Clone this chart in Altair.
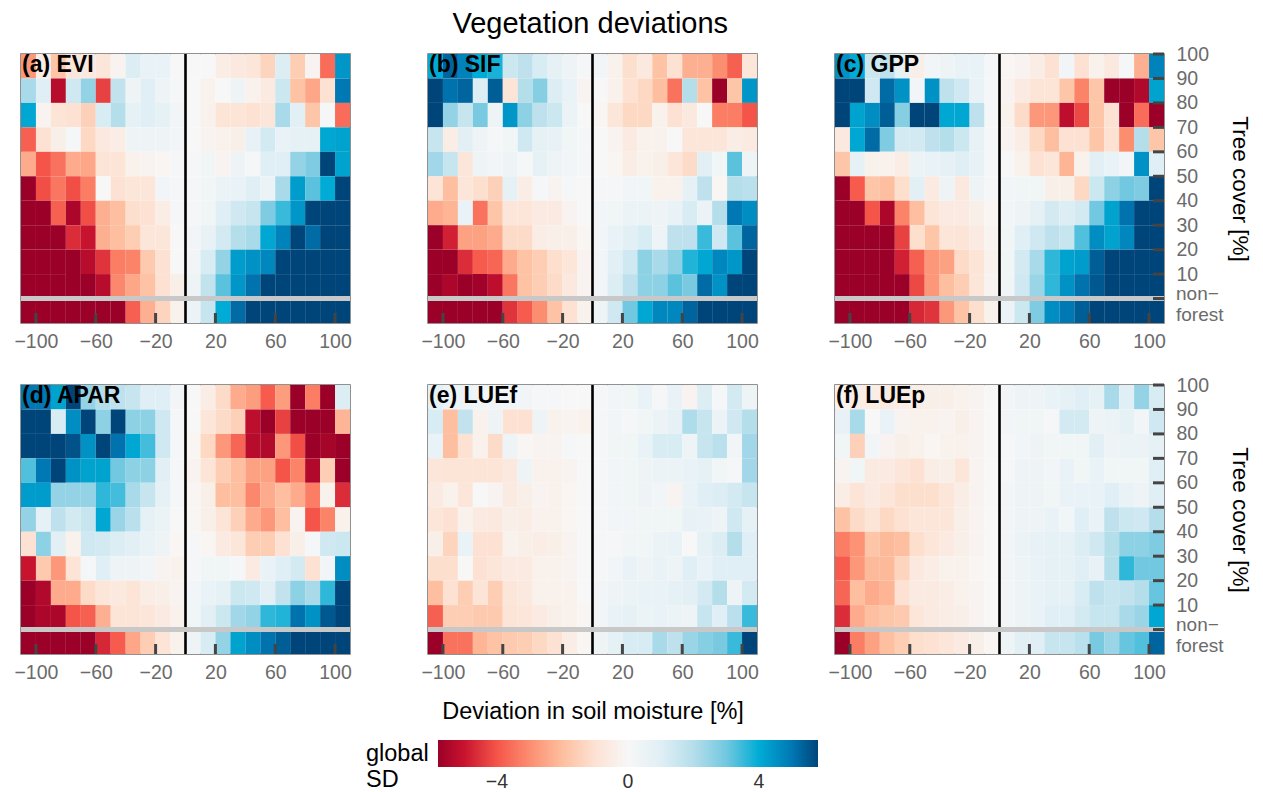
import altair as alt
import pandas as pd

FONT = "Liberation Sans"

# soil-moisture deviation bins (lower edges, %), 22 bins of width 10
sm_lower = list(range(-110, 110, 10))
# tree-cover bins (lower edges, %), top row first; -10 = the "non-forest" row
tc_lower = [90, 80, 70, 60, 50, 40, 30, 20, 10, 0, -10]
x_ticks = [-100, -60, -20, 20, 60, 100]
y_ticks = [0, 10, 20, 30, 40, 50, 60, 70, 80, 90, 100]
y_labels = [10, 20, 30, 40, 50, 60, 70, 80, 90, 100]
nonforest_label = ["non\u2212", "forest"]
legend_ticks = [-4, 0, 4]

EVI = [
    [-2.8, -0.5, -1.8, -0.8, -0.7, -0.8, -0.2, 1.1, 0.6, 0.6, 0.0, 0.0, 0.0, -0.5, -0.7, -0.8, -1.4, 1.1, -1.6, -0.2, -3.6, 4.4],
    [2.2, 1.0, -5.3, 1.4, 2.5, -4.3, 1.7, 0.4, 1.0, 0.4, 0.1, 0.0, -0.3, 0.0, 0.4, -0.3, -0.6, 1.5, -1.9, -2.5, -1.0, 5.0],
    [4.1, -0.2, -0.9, -1.0, -1.5, 1.2, 2.0, 0.8, 1.0, 0.8, 0.2, 0.0, -0.3, -0.9, -0.9, -1.0, -0.8, 2.2, 0.9, -1.8, 0.1, -3.6],
    [-3.8, -1.0, -0.4, 0.1, -1.3, -0.7, -0.5, 0.4, 0.4, 0.4, 0.2, 0.0, -0.2, -0.3, -0.4, 0.7, 1.3, 0.6, 0.8, 0.8, 4.1, 4.2],
    [-2.4, -4.0, -3.5, -2.4, -2.5, -0.9, -0.9, -0.3, -0.2, -0.1, 0.1, 0.1, 0.3, -0.2, 0.4, 0.1, 1.0, 1.0, 2.5, 2.8, 6.0, 4.2],
    [-6, -4.1, -3.4, -4.1, -3.3, 0.0, -1.0, -0.8, -0.8, 0.2, 0.1, 0.1, 0.3, 0.5, 0.6, 1.0, 0.5, 2.2, 4.3, 3.2, 4.0, 6],
    [-6, -6, -3.8, -5.5, -4.1, -2.3, -2.0, -1.1, -1.0, -0.5, 0.1, 0.1, 0.3, 1.0, 1.4, 1.6, 2.8, 3.5, 4.4, 6, 6, 6],
    [-6, -6, -6, -4.6, -5.0, -2.3, -2.0, -1.6, -0.8, -0.8, 0.0, 0.2, 0.7, 1.3, 2.0, 2.2, 4.1, 4.8, 6, 5.2, 6, 6],
    [-6, -6, -6, -6, -5.3, -4.5, -3.3, -3.2, -1.7, -1.0, 0.0, 0.2, 1.2, 2.5, 4.3, 4.5, 4.7, 6, 6, 6, 6, 6],
    [-6, -6, -6, -6, -6, -5.3, -3.1, -2.5, -1.9, -1.0, -0.4, 0.4, 1.7, 3.2, 4.4, 5.1, 6, 6, 6, 6, 6, 6],
    [-6, -6, -6, -6, -6, -6, -6, -3.8, -2.3, -1.4, -0.3, 0.5, 1.6, 4.0, 5.2, 6, 6, 6, 6, 6, 6, 6],
]
SIF = [
    [4.0, 5.3, 4.8, 4.0, 3.8, 1.5, 1.8, 1.2, 0.8, 0.4, 0.1, 0.2, -0.3, -1.1, -0.7, -1.9, -1.0, -2.3, -2.3, -3.0, -3.8, -0.8],
    [6, 5.1, 5.3, 1.1, 5.4, -0.9, 2.0, 2.7, 1.1, 0.6, -0.2, 0.0, -0.3, -1.0, -1.3, -2.0, -3.5, 2.0, -1.9, -6, -1.8, 4.4],
    [6, 2.5, 1.6, 2.9, 0.4, 4.4, 2.6, 1.8, 1.5, 0.5, 0.0, -0.1, -0.8, -1.3, -1.3, -0.3, -1.0, -0.7, 0.0, -3.3, -3.3, -4.0],
    [1.6, -0.5, 0.9, 0.4, 0.1, 0.3, 1.4, 0.8, 0.7, 0.3, 0.1, 0.0, -0.2, -0.6, -0.3, -0.3, 0.0, -0.8, -0.8, -0.8, -0.5, -0.6],
    [2.3, 1.6, -0.8, 0.4, 0.2, 0.4, 0.1, 0.8, 0.4, 0.2, 0.1, 0.0, -0.1, -0.5, -0.3, -0.4, -0.8, -1.2, 0.9, 0.3, 3.2, 0.4],
    [-0.9, -2.0, -0.8, -1.1, -1.5, 0.8, -0.5, 0.1, -0.2, 0.1, 0.0, 0.1, 0.1, 0.2, 0.3, -0.3, -0.3, 0.8, 1.8, -0.1, 2.0, 1.9],
    [-2.4, -2.2, 0.6, -3.5, -1.8, -0.8, -0.8, -0.6, -0.6, -0.2, 0.0, 0.2, 0.3, 0.5, 0.5, 0.4, 0.6, 1.2, 0.5, 2.0, 5.0, 4.6],
    [-6, -4.8, -2.6, -2.6, -2.4, -1.2, -1.2, -0.5, -0.4, -0.4, -0.1, 0.2, 0.6, 0.9, 1.2, 0.4, 1.8, 1.8, 3.5, 1.4, 3.2, 5.3],
    [-6, -5.9, -4.6, -3.9, -3.7, -2.4, -1.9, -1.6, -1.1, -0.8, -0.2, 0.2, 0.9, 1.4, 2.6, 2.2, 2.6, 3.7, 4.1, 4.7, 4.4, 6],
    [-6, -5.5, -6, -5.7, -5.2, -3.4, -1.9, -1.6, -1.2, -0.7, -0.2, 0.2, 1.1, 1.8, 2.6, 2.6, 3.2, 2.9, 5.2, 4.5, 6, 6],
    [-6, -6, -6, -6, -5.8, -4.5, -3.9, -3.0, -1.9, -1.0, -0.3, 0.4, 1.4, 3.0, 4.1, 4.7, 4.7, 5.3, 6, 6, 6, 5.8],
]
GPP = [
    [4.5, 4.0, 1.5, 1.8, 0.8, -0.4, 0.2, 0.4, 0.6, 0.6, 0.1, -0.1, -0.2, -0.5, -1.0, 0.2, -1.0, -0.3, -0.7, 0.1, -2.3, 4.8],
    [6, 6, 1.4, 5.2, 4.5, 0.2, 4.5, 1.8, 1.4, 0.6, 0.1, -0.2, -0.6, -0.9, -0.9, -1.8, -3.2, -1.8, -6, -6, -5.4, 4.2],
    [6, 4.2, 4.6, 5.4, 2.7, 6, 6, 4.1, 4.1, 1.8, 0.1, -0.3, -1.2, -2.8, -2.8, -5.2, -4.2, -1.8, -1.0, -6, -3.6, -6],
    [-0.7, 4.1, 5.2, 2.8, 1.3, 1.3, 1.8, 2.0, 1.5, 0.7, 0.1, -0.2, -0.5, -1.3, -2.0, -1.0, -1.0, -1.8, -1.0, -3.0, 2.0, -1.8],
    [-1.8, 0.8, -0.3, -0.3, -0.5, 0.5, 0.6, 0.8, 1.0, 0.7, 0.1, 0.0, -0.3, -1.0, -0.8, -2.2, -0.3, 0.9, 0.6, 0.2, 4.5, 1.0],
    [-6, -3.9, -1.8, -2.0, -1.1, 0.9, -0.6, 0.4, -0.7, 0.4, 0.1, 0.2, 0.3, 0.3, -0.4, -0.4, -1.3, 1.5, 2.6, 3.0, 2.8, 6],
    [-6, -6, -4.0, -5.5, -3.2, -2.0, -0.9, -0.6, -0.6, -0.4, -0.1, 0.2, 0.4, 0.8, 1.3, 1.1, 1.3, 3.0, 4.2, 5.1, 6, 6],
    [-6, -6, -6, -6, -4.3, -1.1, -1.8, -0.8, -0.9, -0.6, -0.2, 0.3, 1.0, 1.4, 1.8, 1.6, 3.3, 4.6, 4.2, 4.7, 6, 6],
    [-6, -6, -6, -6, -4.8, -3.8, -2.8, -2.6, -1.2, -0.9, -0.3, 0.3, 1.3, 2.2, 3.6, 4.2, 4.3, 5.4, 6, 6, 6, 6],
    [-6, -6, -6, -6, -6, -4.2, -2.8, -2.0, -1.6, -0.8, -0.2, 0.3, 1.4, 2.4, 3.6, 4.5, 5.1, 5.5, 6, 6, 6, 6],
    [-6, -6, -6, -6, -6, -4.7, -4.5, -2.8, -1.9, -1.1, -0.3, 0.5, 1.5, 2.8, 4.6, 5.0, 5.4, 6, 6, 6, 6, 5.8],
]
APAR = [
    [5.0, 5.0, 4.2, 6, 2.5, 2.0, 1.8, 1.6, 1.0, 1.0, 0.2, 0.0, -0.5, -1.2, -2.4, -2.7, -3.9, -2.7, -6, -3.3, -6, 1.1],
    [6, 6, 1.2, 4.6, 6, 2.6, 6, 2.6, 2.6, 1.4, 0.1, 0.0, -0.8, -1.2, -1.5, -5.2, -6, -4.3, -6, -6, -6, -2.2],
    [6, 6, 6, 5.6, 4.5, 6, 5.1, 4.1, 3.4, 1.4, 0.1, -0.1, -1.3, -2.8, -3.7, -5.3, -5.4, -2.8, -4.1, -6, -5.6, -6],
    [3.3, 5.0, 6, 4.5, 4.2, 4.2, 3.0, 2.6, 2.6, 0.9, 0.1, -0.2, -0.9, -1.6, -2.0, -2.6, -2.6, -4.0, -3.2, -5.4, -1.6, -6],
    [4.3, 4.3, 2.5, 2.5, 2.5, 3.6, 3.4, 2.2, 1.6, 0.8, 0.1, -0.1, -0.4, -2.0, -2.0, -3.1, -2.4, -2.0, -2.4, -3.3, -0.3, -4.6],
    [2.5, 0.8, 1.8, 1.3, 1.6, 4.1, 2.4, 1.9, 0.8, 0.5, 0.0, -0.1, -0.4, -0.9, -1.5, -2.4, -2.8, -2.0, -0.2, -4.0, -3.2, -0.3],
    [-1.0, 2.6, 0.9, -0.3, 1.4, 1.3, 1.1, 0.9, 0.6, 0.4, -0.1, 0.1, -0.1, -0.6, -0.8, -1.6, -1.6, -1.0, -0.4, 0.1, 1.4, 1.5],
    [-5.0, -1.7, -2.8, -0.9, 0.1, 1.0, 0.4, 0.4, 0.2, -0.2, -0.3, 0.1, 0.3, 0.3, 0.1, -0.6, 0.6, 1.0, 1.3, -1.0, 0.2, 4.6],
    [-6, -5.4, -2.4, -2.4, -1.2, -0.8, -0.7, -0.9, -0.5, -0.4, -0.2, 0.2, 0.6, 0.8, 1.5, 1.4, 0.9, 1.7, 2.6, 2.2, 3.6, 6],
    [-6, -5.5, -5.5, -4.0, -3.8, -2.3, -0.9, -0.9, -0.8, -0.6, -0.3, 0.3, 0.9, 1.5, 2.3, 2.5, 3.6, 3.7, 5.1, 4.5, 5.5, 6],
    [-6, -6, -6, -5.8, -5.8, -4.7, -3.9, -2.5, -1.6, -0.9, -0.3, 0.4, 1.2, 2.5, 4.2, 4.6, 5.1, 5.4, 6, 6, 6, 5.8],
]
LUEf = [
    [0.8, 0.4, 0.4, 0.3, 0.2, 0.2, 0.2, 0.1, 0.1, 0.0, 0.0, 0.1, 0.2, 0.3, 0.6, 0.1, 0.6, -0.2, 1.1, 0.1, 1.3, 0.4],
    [1.2, -2.0, 1.7, -0.3, 0.4, -1.0, -1.0, 0.4, -0.3, -0.2, -0.3, 0.1, 0.2, 0.1, 0.3, 0.5, 0.8, 2.1, 1.6, 0.5, 1.4, 2.0],
    [0.6, -2.0, -1.0, -0.3, -1.2, 0.4, -0.1, -0.2, -0.2, 0.1, 0.0, 0.1, 0.3, 0.3, 0.6, 1.2, 1.2, 0.4, 1.6, 1.9, 0.2, 2.3],
    [-0.8, -0.9, -0.9, -0.9, -0.9, -0.7, 0.4, -0.3, -0.3, -0.2, 0.0, 0.1, 0.2, 0.3, 0.4, 0.5, 0.5, 0.6, 0.8, 0.3, 0.1, 2.3],
    [-0.6, -0.3, -0.8, 0.0, -0.2, -0.6, -0.4, -0.2, -0.3, -0.1, 0.0, 0.1, 0.2, 0.3, 0.4, 0.2, -0.2, 0.6, 1.0, 1.1, 1.3, 1.6],
    [-0.8, -1.0, -0.3, -0.6, -0.7, -0.4, -0.5, -0.3, -0.3, -0.1, 0.0, 0.1, 0.2, 0.2, 0.3, 0.3, 0.3, 0.7, 0.6, 0.4, 1.4, 0.8],
    [-0.4, -1.4, 0.6, -1.0, -1.0, -0.3, -0.4, -0.5, -0.4, -0.2, 0.0, 0.1, 0.1, 0.3, 0.3, 0.5, 0.6, 0.0, 0.8, 1.1, 2.0, 1.0],
    [-1.1, -1.1, 0.0, -1.0, -0.8, -0.6, -0.6, -0.3, -0.3, -0.2, 0.0, 0.1, 0.2, 0.6, 0.4, 0.6, 0.4, 1.0, 0.6, 1.0, 1.0, 1.0],
    [-2.0, -1.0, -1.6, -0.9, -1.6, -0.8, -0.7, -0.3, -0.3, -0.3, 0.0, 0.2, 0.4, 0.5, 0.6, 0.6, 0.8, 0.9, 1.3, 2.0, 0.4, 1.3],
    [-3.8, -1.6, -1.6, -1.7, -1.7, -0.9, -0.8, -0.6, -0.4, -0.3, -0.1, 0.2, 0.6, 0.8, 0.5, 0.6, 0.5, 0.4, 1.6, 1.0, 1.9, 3.5],
    [-6, -3.5, -3.5, -2.2, -1.9, -1.7, -1.6, -1.3, -1.0, -0.5, -0.1, 0.4, 0.8, 1.2, 1.2, 2.2, 1.8, 2.4, 2.7, 2.9, 3.5, 6],
]
LUEp = [
    [-0.3, -0.5, -0.5, -0.6, -0.5, -0.5, -0.4, -0.4, -0.3, -0.2, 0.0, 0.2, 0.4, 0.4, 0.6, 0.8, 1.0, 0.8, 2.2, 1.0, 2.5, 1.2],
    [0.7, 2.2, 0.0, 0.6, -0.2, -0.3, -0.3, -0.2, -0.4, -0.2, 0.0, 0.2, 0.3, 0.3, 0.1, 1.3, 1.3, 0.4, 0.5, 0.8, 0.2, 1.4],
    [0.3, -1.5, 0.2, -0.2, -0.4, -0.3, -0.1, -0.3, -0.3, -0.2, 0.0, 0.1, 0.2, 0.4, 0.3, 0.3, 0.3, 0.9, 0.4, 0.5, 0.5, 0.8],
    [-0.2, 0.3, -0.6, -0.6, -0.8, -1.0, -0.5, -0.4, -0.8, -0.2, 0.0, 0.1, 0.4, 0.4, 0.2, 0.6, 0.3, 0.6, 0.3, 0.3, 0.3, 1.0],
    [-0.5, -0.9, -0.6, -0.8, -1.1, -1.1, -1.1, -0.8, -0.5, -0.2, 0.0, 0.2, 0.4, 0.4, 0.3, 0.6, 0.6, 0.6, 1.0, 0.6, 0.4, 1.0],
    [-1.9, -1.2, -0.9, -1.3, -1.0, -0.8, -0.8, -0.8, -0.4, -0.2, 0.0, 0.2, 0.4, 0.4, 0.6, 0.3, 1.0, 0.6, 1.8, 1.5, 1.4, 2.0],
    [-3.3, -2.9, -1.8, -2.1, -2.0, -1.1, -0.8, -0.6, -0.4, -0.2, 0.0, 0.2, 0.5, 0.7, 0.8, 0.8, 1.1, 1.4, 2.0, 2.6, 2.6, 2.8],
    [-3.9, -2.8, -2.1, -2.1, -1.4, -0.7, -0.5, -0.3, -0.3, -0.1, 0.0, 0.2, 0.4, 0.6, 0.8, 0.8, 1.0, 0.7, 2.0, 3.6, 3.0, 3.0],
    [-3.7, -2.0, -2.4, -2.2, -1.0, -0.6, -0.6, -0.5, -0.3, -0.2, 0.0, 0.2, 0.4, 0.6, 0.8, 0.8, 1.2, 1.8, 1.6, 1.7, 2.0, 3.1],
    [-4.6, -2.4, -2.0, -1.8, -1.7, -0.8, -0.6, -0.5, -0.4, -0.2, 0.0, 0.2, 0.4, 0.6, 1.0, 1.0, 1.3, 1.6, 1.6, 2.2, 2.4, 4.1],
    [-6, -3.3, -2.6, -2.0, -1.6, -1.1, -1.0, -0.8, -0.6, -0.4, -0.1, 0.4, 0.9, 1.0, 1.6, 1.6, 1.9, 2.9, 2.4, 3.1, 3.3, 5.3],
]

panels = [
    ("(a) EVI", EVI, False, False),
    ("(b) SIF", SIF, False, False),
    ("(c) GPP", GPP, True, False),
    ("(d) APAR", APAR, False, False),
    ("(e) LUEf", LUEf, False, True),
    ("(f) LUEp", LUEp, True, False),
]

W, H = 329, 269
LABEL_COLOR = "#6b6b6b"
LABEL_SIZE = 19.5

c_domain = [-5.8, -5, -4, -3, -2, -1, 0, 1, 2, 3, 4, 5, 5.8]
c_range = ["#9b0028", "#c8132f", "#f55549", "#fc8e70", "#fdbf9f", "#fde2d3", "#f7f7f7",
           "#e0eff5", "#b5deeb", "#72c8e0", "#00acd5", "#0078b4", "#00457a"]
cscale = alt.Scale(domain=c_domain, range=c_range, clamp=True, interpolate="rgb")
xs = alt.Scale(domain=[-110, 110], nice=False, zero=False)
ys = alt.Scale(domain=[-10, 100], nice=False, zero=False)

legend = alt.Legend(
    orient="none", legendX=345, legendY=686, direction="horizontal",
    gradientLength=380, gradientThickness=27, gradientStrokeWidth=0,
    values=legend_ticks, title=["global", "SD"], titleOrient="left",
    titleFontSize=23.5, titleFontWeight="normal", titleColor="black", titleFont=FONT,
    titleLineHeight=26, titlePadding=9, titleBaseline="line-top", titleAnchor="end",
    labelFontSize=LABEL_SIZE, labelColor="#333333", labelFont=FONT, labelOffset=6,
)


def make_panel(label, vals, show_y, show_xtitle):
    rows = []
    for i, y0 in enumerate(tc_lower):
        for j, x0 in enumerate(sm_lower):
            rows.append({"x0": x0, "x1": x0 + 10, "y0": y0, "y1": y0 + 10, "v": vals[i][j]})
    df = pd.DataFrame(rows)

    xaxis = alt.Axis(
        values=x_ticks, ticks=False, domain=False, grid=False, labelPadding=9,
        labelFontSize=LABEL_SIZE, labelColor=LABEL_COLOR, labelFont=FONT, labelFlush=False,
        title="Deviation in soil moisture [%]" if show_xtitle else None,
        titleFontSize=23.5, titleFontWeight="normal", titleColor="black", titleFont=FONT,
        titlePadding=18,
    )
    if show_y:
        yaxis = alt.Axis(
            orient="right", values=y_labels, ticks=False, domain=False, grid=False,
            labelPadding=12, labelFontSize=LABEL_SIZE, labelColor=LABEL_COLOR, labelFont=FONT,
            labelOverlap=False, labelFlush=False, labelAlign="left",
            title="Tree cover [%]", titleAngle=90, titleFontSize=22.5, titleFontWeight="normal",
            titleColor="black", titleFont=FONT, titlePadding=19,
        )
    else:
        yaxis = None

    rect = alt.Chart(df).mark_rect(strokeWidth=0).encode(
        x=alt.X("x0:Q", scale=xs, axis=xaxis),
        x2="x1:Q",
        y=alt.Y("y0:Q", scale=ys, axis=yaxis),
        y2="y1:Q",
        color=alt.Color("v:Q", scale=cscale, legend=legend),
    )
    one = alt.Data(values=[{}])
    zero_v = alt.Chart(one).mark_rule(color="black", strokeWidth=2.6).encode(
        x=alt.X(datum=0, scale=xs, axis=xaxis))
    zero_h = alt.Chart(one).mark_rule(color="#c8c8c8", strokeWidth=5).encode(
        y=alt.Y(datum=0, scale=ys, axis=yaxis))
    xt = alt.Chart(pd.DataFrame({"t": x_ticks})).mark_rule(color="#444444", strokeWidth=3).encode(
        x=alt.X("t:Q", scale=xs, axis=xaxis), y=alt.value(H), y2=alt.value(H - 10))
    layers = [rect, zero_v, zero_h, xt]
    if show_y:
        yt = alt.Chart(pd.DataFrame({"t": y_ticks})).mark_rule(color="#444444", strokeWidth=3).encode(
            y=alt.Y("t:Q", scale=ys, axis=yaxis), x=alt.value(W), x2=alt.value(W - 11))
        nf = alt.Chart(one).mark_text(
            text=nonforest_label, align="left", baseline="middle", lineHeight=21, dx=12, dy=-5,
            fontSize=19, font=FONT, color=LABEL_COLOR,
        ).encode(y=alt.Y(datum=0, scale=ys, axis=yaxis), x=alt.value(W))
        layers += [yt, nf]
    txt = alt.Chart(alt.Data(values=[{"lab": label}])).mark_text(
        align="left", baseline="top", fontSize=23, fontWeight="bold", font=FONT, color="black"
    ).encode(x=alt.value(1), y=alt.value(0), text="lab:N")
    layers.append(txt)
    return alt.layer(*layers).properties(width=W, height=H)


charts = [make_panel(*p) for p in panels]

chart = alt.concat(
    *charts, columns=3, spacing={"row": 62, "column": 78}, bounds="flush",
    title=alt.TitleParams("Vegetation deviations", fontSize=29, fontWeight="normal",
                          font=FONT, color="black", anchor="middle", offset=4, dx=-42),
).resolve_scale(color="shared").properties(
    padding={"left": 5, "top": 2, "right": 0, "bottom": 0}
).configure_view(stroke="#6e6e6e", strokeWidth=1.5)

chart.save("out.html", embed_options={"renderer": "svg", "actions": False})
